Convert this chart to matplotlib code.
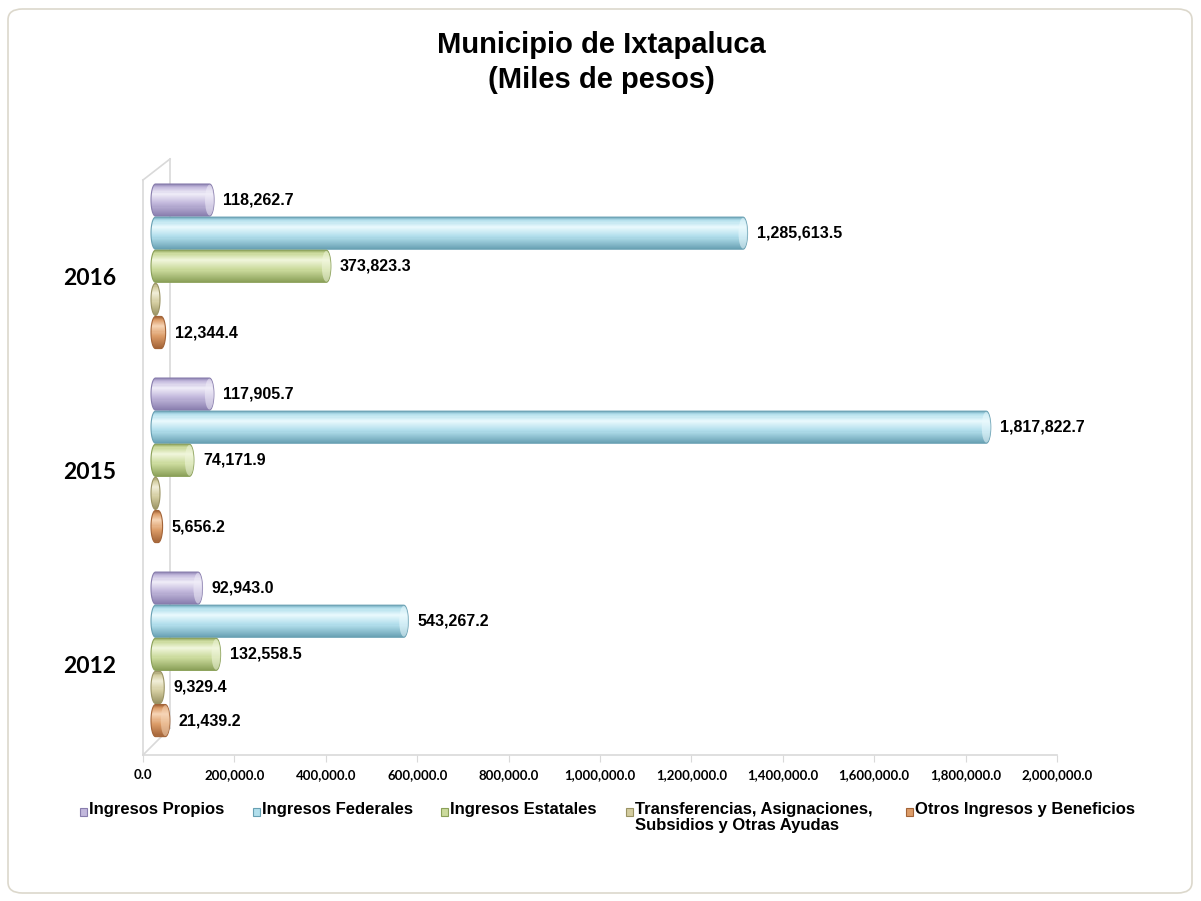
import numpy as np
import matplotlib
matplotlib.use("Agg")
import matplotlib.pyplot as plt
import matplotlib.transforms as mtransforms
from matplotlib.patches import Polygon, Ellipse, Rectangle, FancyBboxPatch
from matplotlib.collections import PolyCollection
from matplotlib.colors import to_rgb

plt.rcParams["font.family"] = ["Liberation Sans", "DejaVu Sans"]

# data (miles de pesos)
years = ["2016", "2015", "2012"]
series = ["Ingresos Propios", "Ingresos Federales", "Ingresos Estatales",
          "Transferencias, Asignaciones,\nSubsidios y Otras Ayudas",
          "Otros Ingresos y Beneficios"]
propios = [118262.7, 117905.7, 92943.0]
federales = [1285613.5, 1817822.7, 543267.2]
estatales = [373823.3, 74171.9, 132558.5]
transferencias = [0.0, 0.0, 9329.4]
otros = [12344.4, 5656.2, 21439.2]
x_ticks = np.arange(0, 2000001, 200000)

values = [propios, federales, estatales, transferencias, otros]

# (dark, base, light) per series
palette = [
    ("#887DAD", "#C2B8DC", "#F0EDF8"),
    ("#68A0B3", "#B2DFEC", "#EAF9FD"),
    ("#8AA058", "#CBDA9C", "#F0F6DC"),
    ("#9A9364", "#D3CC9F", "#F1EED8"),
    ("#A36438", "#DC9C68", "#F6D5B6"),
]

W, H = 1201, 901
fig = plt.figure(figsize=(W / 100, H / 100), dpi=100)

# outer frame
frame = FancyBboxPatch((8 / W, 8 / H), 1184 / W, 884 / H,
                       boxstyle="round,pad=0,rounding_size=0.012",
                       transform=fig.transFigure, fc="none",
                       ec="#DCD8CC", lw=1.2, zorder=-1)
fig.patches.append(frame)

ax_l, ax_r, ax_t, ax_b = 143, 1057, 159, 755
ax = fig.add_axes([ax_l / W, 1 - ax_b / H, (ax_r - ax_l) / W, (ax_b - ax_t) / H])
ax.patch.set_alpha(0)

group_pitch = 5.86
bar_h = 0.97
ax.set_xlim(0, 2000000)
ax.set_ylim(2 * group_pitch + 4 + 1.04, -1.24)

px_per_x = (ax_r - ax_l) / 2000000
rx = 4.5 / px_per_x        # cap half-width in data units
shift = mtransforms.ScaledTranslation(12.5 / 100, 0, fig.dpi_scale_trans)
trans = ax.transData + shift

stops = np.array([0.0, 0.1, 0.3, 0.6, 1.0])


def shade(dark, base, light, t):
    cols = np.array([to_rgb(dark), to_rgb(base), to_rgb(light),
                     to_rgb(base), to_rgb(dark)])
    return np.array([np.interp(t, stops, cols[:, k]) for k in range(3)]).T


for s, vals in enumerate(values):
    dark, base, light = palette[s]
    for g, v in enumerate(vals):
        yc = g * group_pitch + s
        hh = bar_h / 2
        th = np.linspace(np.pi / 2, 3 * np.pi / 2, 30)
        left = np.column_stack([rx * np.cos(th), yc - hh * np.sin(th)])
        th2 = np.linspace(-np.pi / 2, np.pi / 2, 30)
        right = np.column_stack([v + rx * np.cos(th2), yc - hh * np.sin(th2)])
        outline = Polygon(np.vstack([left, right]), closed=True, transform=trans,
                          fc="none", ec=dark, lw=0.8, zorder=4)
        ax.add_patch(outline)

        n = 30
        ys = np.linspace(yc - hh, yc + hh, n + 1)
        strips = [[(-rx, ys[i]), (v + rx, ys[i]), (v + rx, ys[i + 1]), (-rx, ys[i + 1])]
                  for i in range(n)]
        cols = shade(dark, base, light, (np.arange(n) + 0.5) / n)
        pc = PolyCollection(strips, facecolors=cols, edgecolors="none",
                            transform=trans, zorder=3)
        ax.add_collection(pc)
        pc.set_clip_path(outline)

        # lighter end face of the cylinder
        if v > 2 * rx:
            cap = Ellipse((v, yc), 2 * rx, bar_h * 0.96, transform=trans,
                          fc=light, ec="none", zorder=5, alpha=0.55)
            ax.add_patch(cap)

        if v > 0:
            ax.annotate(f"{v:,.1f}", xy=(v, yc), xycoords=trans,
                        xytext=(rx * px_per_x + 9, 0), textcoords="offset pixels",
                        ha="left", va="center", fontsize=11.5, fontweight="bold",
                        zorder=6)

# year labels
ylab = mtransforms.blended_transform_factory(ax.transAxes, ax.transData) + \
    mtransforms.ScaledTranslation(0, -12 / 100, fig.dpi_scale_trans)
for g, yr in enumerate(years):
    ax.text((90 - ax_l) / (ax_r - ax_l), g * group_pitch + 2, yr, transform=ylab,
            ha="center", va="center", fontsize=16.5, fontweight="bold", family="Lato")

# axes / 3D wall
for sp in ["top", "right", "left"]:
    ax.spines[sp].set_visible(False)
ax.spines["bottom"].set_color("#D9D9D9")
ax.spines["bottom"].set_linewidth(1.2)
ax.set_yticks([])
ax.set_xticks(x_ticks)
ax.set_xticklabels([f"{t:,.1f}" for t in x_ticks], fontsize=9.5,
                   fontweight="bold", family="Lato")
ax.tick_params(axis="x", length=5, color="#D9D9D9", pad=5)

wall = dict(color="#D9D9D9", lw=1.2, transform=ax.transAxes, clip_on=False)
dx, dy = 27 / (ax_r - ax_l), 27 / (ax_b - ax_t)
front_top = (ax_b - 180) / (ax_b - ax_t)
back_top = (ax_b - 159) / (ax_b - ax_t)
ax.plot([0, 0], [0, front_top], **wall)
ax.plot([dx, dx], [dy, back_top], **wall)
ax.plot([0, dx], [0, dy], **wall)
ax.plot([0, dx], [front_top, back_top], **wall)

# title
fig.text(601 / W, 1 - 45 / H, "Municipio de Ixtapaluca", ha="center", va="center",
         fontsize=21, fontweight="bold")
fig.text(601 / W, 1 - 80 / H, "(Miles de pesos)", ha="center", va="center",
         fontsize=21, fontweight="bold")

# legend
leg_x = [80, 253, 441, 626, 906]
leg_y = 812
for s, name in enumerate(series):
    dark, base, light = palette[s]
    fig.patches.append(Rectangle((leg_x[s] / W, 1 - (leg_y + 4) / H), 7 / W, 8 / H,
                                 transform=fig.transFigure, fc=base, ec=dark, lw=0.8))
    fig.text((leg_x[s] + 9) / W, 1 - (leg_y - 10) / H, name, ha="left", va="top",
             fontsize=12, fontweight="bold", linespacing=1.1)

fig.savefig("out.png", dpi=100)
